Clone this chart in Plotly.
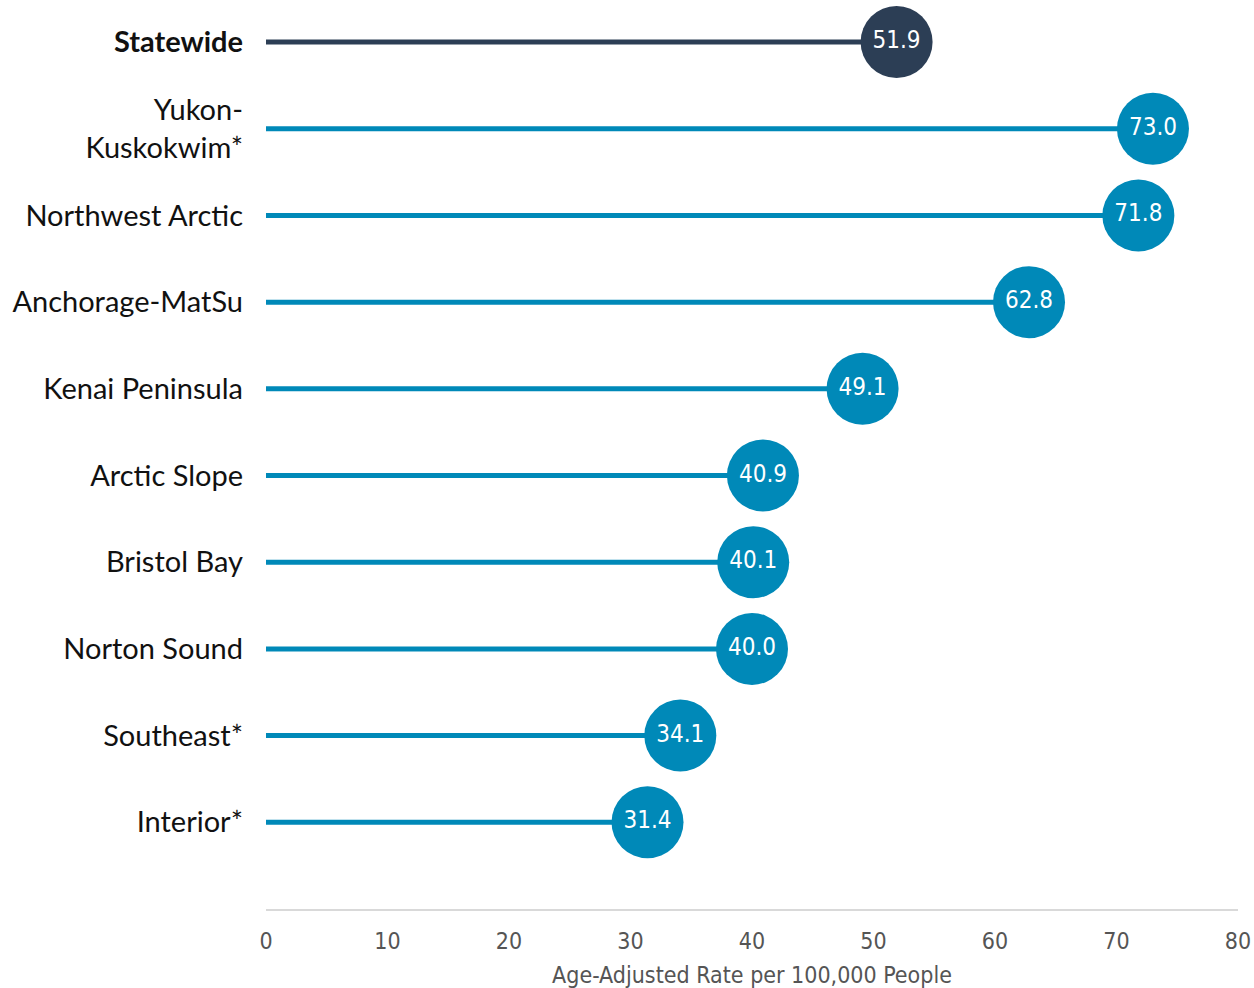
import plotly.graph_objects as go

categories = ["Statewide", "Yukon-Kuskokwim*", "Northwest Arctic", "Anchorage-MatSu",
              "Kenai Peninsula", "Arctic Slope", "Bristol Bay", "Norton Sound",
              "Southeast*", "Interior*"]
values = [51.9, 73.0, 71.8, 62.8, 49.1, 40.9, 40.1, 40.0, 34.1, 31.4]
tick_labels = ["<b>Statewide</b>", "Yukon-<br>Kuskokwim*", "Northwest Arctic", "Anchorage-MatSu",
               "Kenai Peninsula", "Arctic Slope", "Bristol Bay", "Norton Sound",
               "Southeast*", "Interior*"]
x_ticks = [0, 10, 20, 30, 40, 50, 60, 70, 80]

DARK = "#2c3e55"
BLUE = "#0089b8"
COND = "DejaVu Sans Condensed, Roboto, sans-serif"

n = len(categories)
ypos = [n - 1 - i for i in range(n)]

fig = go.Figure()
for i, (c, v) in enumerate(zip(categories, values)):
    col = DARK if i == 0 else BLUE
    fig.add_trace(go.Scatter(
        x=[0, v], y=[ypos[i], ypos[i]], mode="lines",
        line=dict(color=col, width=5), hoverinfo="skip", showlegend=False))
    fig.add_trace(go.Scatter(
        x=[v], y=[ypos[i]], mode="markers+text",
        marker=dict(color=col, size=72, line=dict(width=0)),
        text=[f"{v:.1f}"], textposition="middle center",
        textfont=dict(color="white", size=24, family=COND),
        hoverinfo="skip", showlegend=False))

fig.update_layout(
    width=1254, height=988,
    margin=dict(l=266, r=16, t=0, b=79, autoexpand=False),
    plot_bgcolor="white", paper_bgcolor="white",
    font=dict(family="Lato, sans-serif", color="#111111"),
    xaxis=dict(range=[0, 80], tickvals=x_ticks, showgrid=False, zeroline=False,
               showline=True, linecolor="#d9d9d9", linewidth=2, automargin=False,
               ticks="", tickfont=dict(family=COND, size=23, color="#555555"),
               ticklabelstandoff=10, ticklabeloverflow="allow",
               title=dict(text="Age-Adjusted Rate per 100,000 People",
                          font=dict(family=COND, size=23, color="#555555"), standoff=14)),
    yaxis=dict(range=[-1, 9.485], tickvals=ypos, ticktext=tick_labels,
               showgrid=False, zeroline=False, showline=False, ticks="", automargin=False,
               tickfont=dict(family="Lato, sans-serif", size=29, color="#111111"),
               ticklabelstandoff=22),
)

fig.write_html(
    "out.html",
    config={"displayModeBar": False},
    post_script="document.body.style.margin='0';document.documentElement.style.overflow='hidden';document.body.style.overflow='hidden';",
)
